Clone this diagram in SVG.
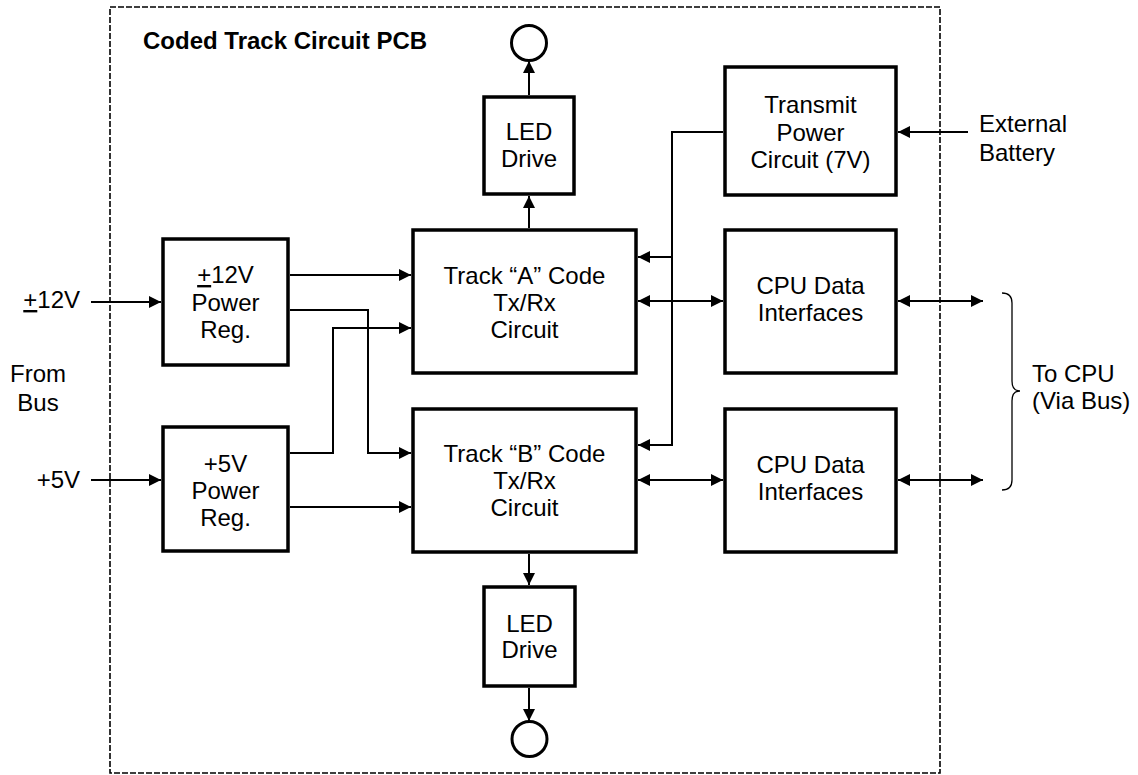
<svg xmlns="http://www.w3.org/2000/svg" width="1138" height="775" viewBox="0 0 1138 775">
<style>
text{font-family:"Liberation Sans",Arial,sans-serif;font-size:24px;fill:#000}
.c{text-anchor:middle}
.r{text-anchor:end}
.t{font-weight:bold}
.box{fill:#fff;stroke:#000;stroke-width:3.5}
.ln{fill:none;stroke:#000;stroke-width:2}
.a{marker-end:url(#ah)}
.b{marker-start:url(#ah);marker-end:url(#ah)}
.led{fill:#fff;stroke:#000;stroke-width:3}
</style>
<defs>
<marker id="ah" markerUnits="userSpaceOnUse" markerWidth="13" markerHeight="12" refX="12" refY="6" orient="auto-start-reverse">
<path d="M0,0 L12,6 L0,12 z" fill="#000"/>
</marker>
</defs>
<rect x="110" y="7" width="830" height="766" fill="none" stroke="#000" stroke-width="1.6" stroke-dasharray="6 2"/>
<text class="t" x="143" y="49">Coded Track Circuit PCB</text>

<g id="connectors">
<line class="ln a" x1="91" y1="302" x2="161" y2="302"/>
<line class="ln a" x1="91" y1="480" x2="161" y2="480"/>
<line class="ln a" x1="290" y1="275" x2="411" y2="275"/>
<polyline class="ln a" points="290,310 368,310 368,453 411,453"/>
<polyline class="ln a" points="290,453 333,453 333,328 411,328"/>
<line class="ln a" x1="290" y1="507" x2="411" y2="507"/>
<line class="ln a" x1="529" y1="228" x2="529" y2="196"/>
<line class="ln a" x1="529" y1="95" x2="529" y2="61"/>
<line class="ln a" x1="529" y1="554" x2="529" y2="585"/>
<line class="ln a" x1="529" y1="688" x2="529" y2="721"/>
<polyline class="ln a" points="723,132 672,132 672,445 638,445"/>
<line class="ln a" x1="672" y1="257" x2="638" y2="257"/>
<line class="ln a" x1="968" y1="132" x2="898" y2="132"/>
<line class="ln b" x1="638" y1="301" x2="723" y2="301"/>
<line class="ln b" x1="638" y1="480" x2="723" y2="480"/>
<line class="ln b" x1="898" y1="301" x2="983" y2="301"/>
<line class="ln b" x1="898" y1="480" x2="983" y2="480"/>
<path d="M1002,293 Q1012,293 1012,303 L1012,381 Q1012,391 1020,391 Q1012,391 1012,401 L1012,480 Q1012,490 1002,490" fill="none" stroke="#000" stroke-width="1.3"/>
</g>

<g id="in-12v">
<text class="r" x="80" y="308"><tspan text-decoration="underline">+</tspan>12V</text>
</g>
<g id="from-bus">
<text class="c" x="38" y="382">From</text>
<text class="c" x="38" y="411">Bus</text>
</g>
<g id="in-5v">
<text class="r" x="80" y="488">+5V</text>
</g>

<g id="reg12">
<rect class="box" x="163" y="239" width="125" height="126"/>
<text class="c" x="225.5" y="283"><tspan text-decoration="underline">+</tspan>12V</text>
<text class="c" x="225.5" y="311">Power</text>
<text class="c" x="225.5" y="338">Reg.</text>
</g>
<g id="reg5">
<rect class="box" x="163" y="427" width="125" height="124"/>
<text class="c" x="225.5" y="472">+5V</text>
<text class="c" x="225.5" y="499">Power</text>
<text class="c" x="225.5" y="526">Reg.</text>
</g>

<g id="trackA">
<rect class="box" x="413" y="230" width="223" height="143"/>
<text class="c" x="524.5" y="284">Track “A” Code</text>
<text class="c" x="524.5" y="311">Tx/Rx</text>
<text class="c" x="524.5" y="338">Circuit</text>
</g>
<g id="trackB">
<rect class="box" x="413" y="409" width="223" height="143"/>
<text class="c" x="524.5" y="462">Track “B” Code</text>
<text class="c" x="524.5" y="489">Tx/Rx</text>
<text class="c" x="524.5" y="516">Circuit</text>
</g>

<g id="ledTop">
<rect class="box" x="484" y="97" width="90" height="97"/>
<text class="c" x="529" y="140">LED</text>
<text class="c" x="529" y="167">Drive</text>
</g>
<g id="lampTop">
<circle class="led" cx="529" cy="43" r="17.5"/>
</g>
<g id="ledBottom">
<rect class="box" x="484" y="587" width="91" height="99"/>
<text class="c" x="529.5" y="632">LED</text>
<text class="c" x="529.5" y="658">Drive</text>
</g>
<g id="lampBottom">
<circle class="led" cx="529.5" cy="739" r="17.5"/>
</g>

<g id="txPower">
<rect class="box" x="725" y="67" width="171" height="128"/>
<text class="c" x="810.5" y="113">Transmit</text>
<text class="c" x="810.5" y="141">Power</text>
<text class="c" x="810.5" y="168">Circuit (7V)</text>
</g>
<g id="cpuA">
<rect class="box" x="725" y="230" width="171" height="143"/>
<text class="c" x="810.5" y="294">CPU Data</text>
<text class="c" x="810.5" y="321">Interfaces</text>
</g>
<g id="cpuB">
<rect class="box" x="725" y="409" width="171" height="143"/>
<text class="c" x="810.5" y="473">CPU Data</text>
<text class="c" x="810.5" y="500">Interfaces</text>
</g>

<g id="battery">
<text x="979" y="132">External</text>
<text x="979" y="161">Battery</text>
</g>
<g id="to-cpu">
<text x="1032" y="382">To CPU</text>
<text x="1032" y="409">(Via Bus)</text>
</g>
</svg>
